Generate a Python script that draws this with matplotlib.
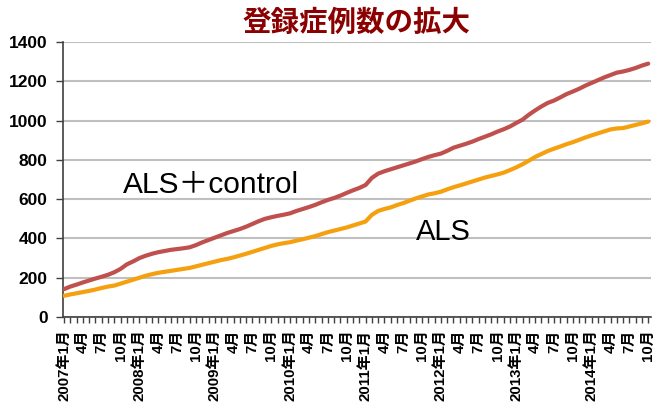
import matplotlib.pyplot as plt

plt.rcParams['font.family'] = ['Liberation Sans', 'Noto Sans CJK JP']

# monthly cumulative registrations, 2007-01 .. 2014-10
years = list(range(2007, 2015))
als_control = [
    142, 155, 165, 176, 186, 196, 205, 215, 228, 245, 268, 283,
    300, 312, 322, 330, 336, 342, 346, 350, 355, 366, 380, 392,
    404, 416, 428, 438, 448, 460, 474, 488, 500, 508, 515, 521,
    528, 540, 550, 560, 571, 584, 596, 606, 618, 632, 645, 657,
    672, 708, 730, 742, 752, 762, 772, 782, 792, 804, 815, 824,
    832, 846, 862, 872, 882, 893, 906, 918, 930, 944, 956, 970,
    988, 1005, 1030, 1052, 1072, 1090, 1102, 1118, 1135, 1148, 1162, 1178,
    1192, 1206, 1220, 1232, 1244, 1250, 1258, 1268, 1280, 1290,
]
als = [
    108, 115, 121, 127, 133, 140, 148, 155, 160, 170, 180, 190,
    200, 210, 218, 225, 230, 235, 240, 245, 250, 258, 266, 274,
    282, 290, 296, 304, 313, 322, 332, 342, 352, 362, 370, 376,
    381, 389, 396, 404, 412, 422, 432, 440, 448, 456, 466, 476,
    486, 520, 540, 550, 558, 570, 580, 592, 604, 614, 624, 630,
    638, 650, 661, 670, 680, 690, 700, 710, 718, 726, 735, 748,
    762, 778, 796, 815, 830, 845, 857, 868, 880, 890, 902, 914,
    925, 935, 945, 955, 960, 962, 970, 978, 986, 995,
]

months = list(range(len(als)))
labels = []
for i in months:
    y, m = years[0] + i // 12, i % 12 + 1
    if m == 1:
        labels.append(f'{y}年1月')
    elif m in (4, 7, 10):
        labels.append(f'{m}月')
    else:
        labels.append('')

fig = plt.figure(figsize=(6.54, 4.08), dpi=100)
ax = fig.add_axes([0.096, 0.223, 0.899, 0.674])

ax.plot(months, als_control, color='#c0504d', lw=3, solid_capstyle='round', zorder=3)
ax.plot(months, als, color='#f5a10f', lw=3, solid_capstyle='round', zorder=3)

ax.set_ylim(0, 1400)
ax.set_xlim(-0.2, 93.4)
ax.set_yticks(range(0, 1401, 200))
ax.yaxis.grid(True, color='#c0c0c0', lw=1.5)
ax.set_axisbelow(True)

for s in ('top', 'right'):
    ax.spines[s].set_visible(False)
for s in ('left', 'bottom'):
    ax.spines[s].set_color('#404040')
    ax.spines[s].set_linewidth(1.2)

ax.set_xticks(months)
ax.set_xticklabels(labels, rotation=90, fontsize=10.8, fontweight='bold')
ax.tick_params(axis='x', length=4, width=1, color='#404040', pad=5)
ax.tick_params(axis='y', length=5, width=1, color='#404040', labelsize=12.5, pad=6)
for t in ax.get_yticklabels():
    t.set_fontweight('bold')

ax.text(9.4, 672, 'ALS＋control', fontsize=21.5, va='center', ha='left')
ax.text(56, 433, 'ALS', fontsize=21, va='center', ha='left')

fig.text(0.545, 0.945, '登録症例数の拡大', fontsize=20.5, fontweight='bold',
         color='#8b0000', ha='center', va='center', family='Noto Sans CJK JP')

fig.savefig('out.png', dpi=100)
